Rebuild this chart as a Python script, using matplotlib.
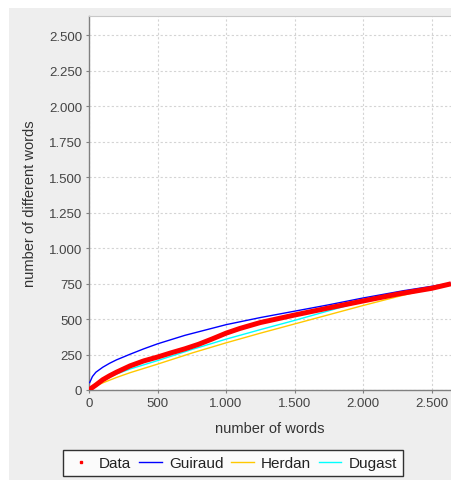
import matplotlib
matplotlib.use("Agg")
import matplotlib.pyplot as plt
from matplotlib.lines import Line2D
from matplotlib.ticker import FuncFormatter, MultipleLocator

plt.rcParams['font.family'] = ['Liberation Sans', 'DejaVu Sans']

# values (words -> different words)
data_n = [0, 25, 50, 100, 150, 200, 300, 400, 500, 600, 700, 800, 900, 1000, 1100, 1250,
          1500, 1750, 2000, 2250, 2500, 2642]
data_v = [0, 18, 35, 72, 100, 125, 170, 205, 232, 262, 290, 322, 360, 400, 433, 475,
          528, 578, 627, 675, 716, 748]

guiraud_n = [5, 25, 50, 100, 150, 200, 300, 400, 500, 700, 1000, 1250, 1500, 1750, 2000,
             2300, 2500, 2642]
guiraud_v = [52, 95, 125, 160, 188, 212, 252, 290, 325, 385, 460, 510, 555, 600, 648,
             700, 730, 752]

herdan_n = [0, 50, 100, 200, 300, 500, 750, 1000, 1250, 1500, 1750, 2000, 2250, 2500, 2642]
herdan_v = [0, 28, 50, 88, 122, 182, 260, 332, 400, 465, 530, 595, 657, 716, 745]

dugast_n = [0, 50, 100, 200, 300, 500, 750, 1000, 1250, 1500, 1750, 2000, 2250, 2500, 2642]
dugast_v = [0, 38, 68, 112, 148, 207, 285, 358, 425, 490, 558, 626, 680, 722, 746]

W, H = 451, 481
fig = plt.figure(figsize=(W / 100, H / 100), dpi=100, facecolor="white")

# grey panel behind everything
bg = fig.add_axes([9 / W, 0, 1 - 9 / W, (H - 9) / H], zorder=-1)
bg.set_facecolor("#EEEEEE")
bg.set_xticks([])
bg.set_yticks([])
for s in bg.spines.values():
    s.set_visible(False)

ax = fig.add_axes([89 / W, (H - 391) / H, (W - 89) / W, (391 - 17) / H], zorder=1)
ax.set_facecolor("white")

ax.plot(guiraud_n, guiraud_v, color="#0000FF", lw=1.0, zorder=3, solid_joinstyle="round")
ax.plot(herdan_n, herdan_v, color="#FFC800", lw=1.0, zorder=3, solid_joinstyle="round")
ax.plot(dugast_n, dugast_v, color="#00FFFF", lw=1.0, zorder=3, solid_joinstyle="round")
ax.plot(data_n, data_v, color="#FF0000", lw=3.6, zorder=4, solid_capstyle="butt",
        solid_joinstyle="round")

ax.set_xlim(0, 2642)
ax.set_ylim(0, 2634)
ax.xaxis.set_major_locator(MultipleLocator(500))
ax.yaxis.set_major_locator(MultipleLocator(250))
fmt = FuncFormatter(lambda v, p: f"{int(v):,}".replace(",", "."))
ax.xaxis.set_major_formatter(fmt)
ax.yaxis.set_major_formatter(fmt)

ax.grid(True, color="#D4D4D4", linestyle=(0, (2, 2)), lw=0.8)
ax.set_axisbelow(True)
ax.spines["right"].set_visible(False)
ax.spines["top"].set_color("#C8C8C8")
ax.spines["top"].set_linewidth(0.8)
for s in ["left", "bottom"]:
    ax.spines[s].set_color("#808080")
    ax.spines[s].set_linewidth(1.0)
ax.tick_params(length=2, width=0.8, color="#808080", labelsize=9.5, labelcolor="#444444", pad=3)

ax.set_xlabel("number of words", fontsize=10.5, color="#333333")
ax.set_ylabel("number of different words", fontsize=10.5, color="#333333")
ax.xaxis.set_label_coords((270 - 89) / (W - 89), -0.082)
ax.yaxis.set_label_coords(-(89 - 37) / (W - 89), 0.5)

handles = [
    Line2D([], [], color="#FF0000", marker="s", markersize=2, lw=0),
    Line2D([], [], color="#0000FF", lw=1.0),
    Line2D([], [], color="#FFC800", lw=1.0),
    Line2D([], [], color="#00FFFF", lw=1.0),
]
leg = fig.legend(handles, ["Data", "Guiraud", "Herdan", "Dugast"], loc="center",
                 bbox_to_anchor=(233 / W, (H - 464) / H), ncol=4, fontsize=11,
                 frameon=True, fancybox=False, edgecolor="black", handlelength=1.5,
                 handletextpad=0.45, columnspacing=0.5, borderpad=0.4)
leg.get_frame().set_linewidth(1.0)
for t in leg.get_texts():
    t.set_color("#222222")

fig.savefig("out.png", dpi=100, facecolor="white")
